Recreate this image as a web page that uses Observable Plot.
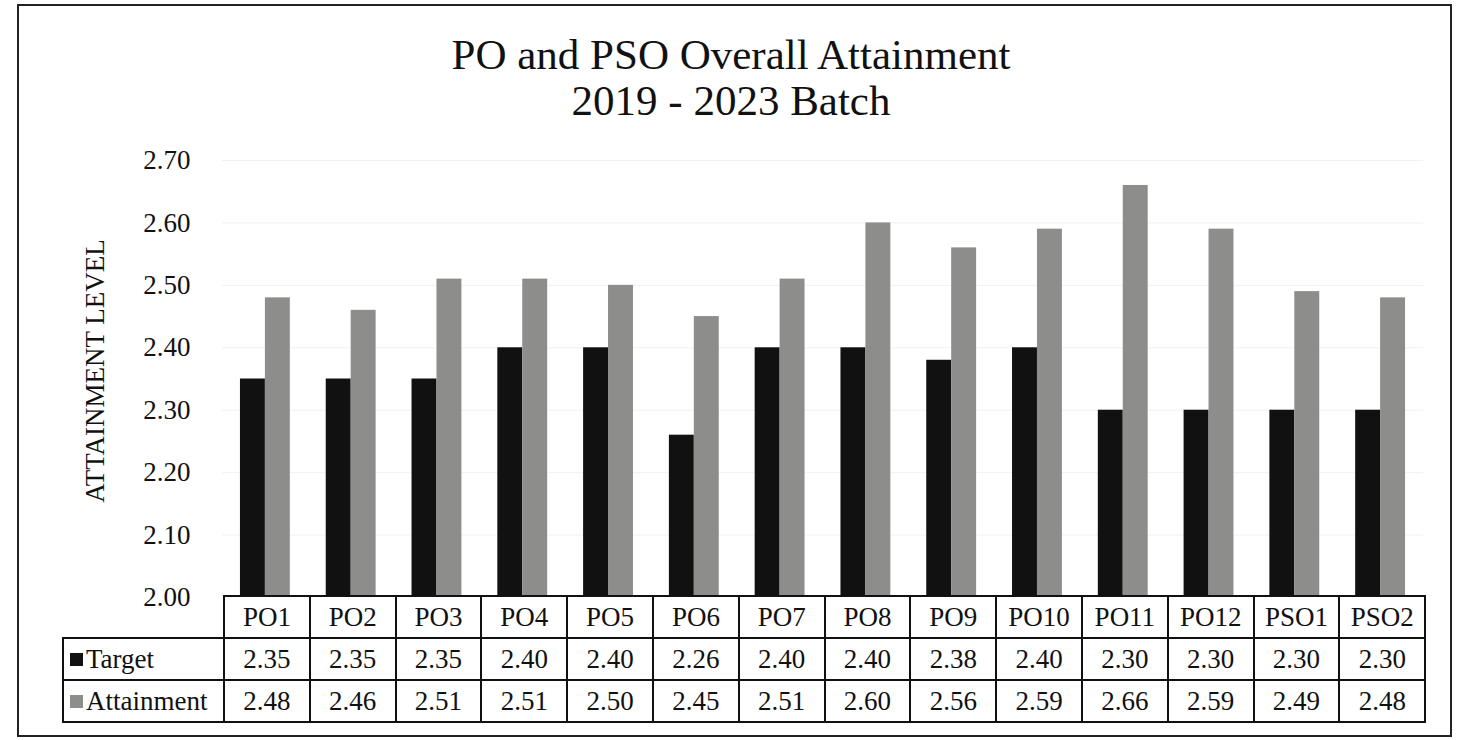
<!DOCTYPE html>
<html>
<head>
<meta charset="utf-8">
<script src="https://cdn.jsdelivr.net/npm/d3@7"></script>
<script src="https://cdn.jsdelivr.net/npm/@observablehq/plot@0.6"></script>
<style>
  html, body { margin: 0; padding: 0; background: #fff; }
  #page { position: relative; width: 1464px; height: 740px; overflow: hidden; background: #fff;
          font-family: 'Liberation Serif', 'Times New Roman', serif; color: #111; }
  #frame { position: absolute; left: 17px; top: 4px; width: 1431px; height: 729px; border: 2px solid #222; }
  #title { position: absolute; left: 0; top: 32px; width: 1462px; text-align: center;
           font-size: 43px; line-height: 46px; }
  #chart { position: absolute; left: 0; top: 140px; }
  #ylab { position: absolute; left: 95px; top: 371px; width: 0; height: 0; }
  #ylab span { position: absolute; left: 0; top: 0; transform: translate(-50%, -50%) rotate(-90deg);
               white-space: nowrap; font-size: 27px; line-height: 30px; }
  #tbl { position: absolute; left: 62px; top: 595px; border-collapse: collapse; table-layout: fixed;
         font-size: 27px; }
  #tbl td { border: 2px solid #111; height: 40px; padding: 0; text-align: center; background: #fff; }
  #tbl td.blank { border: none; background: transparent; }
  #tbl td.lab { text-align: left; padding-left: 6px; white-space: nowrap; }
  .key { display: inline-block; width: 13px; height: 13px; margin-right: 3px; vertical-align: 2px; }
</style>
</head>
<body>
<div id="page">
  <div id="frame"></div>
  <div id="title">PO and PSO Overall Attainment<br>2019 - 2023 Batch</div>
  <div id="chart"></div>
  <div id="ylab"><span></span></div>
  <table id="tbl"></table>
</div>
<script>
const categories = ["PO1","PO2","PO3","PO4","PO5","PO6","PO7","PO8","PO9","PO10","PO11","PO12","PSO1","PSO2"];
const seriesNames = ["Target", "Attainment"];
const target = [2.35, 2.35, 2.35, 2.40, 2.40, 2.26, 2.40, 2.40, 2.38, 2.40, 2.30, 2.30, 2.30, 2.30];
const attainment = [2.48, 2.46, 2.51, 2.51, 2.50, 2.45, 2.51, 2.60, 2.56, 2.59, 2.66, 2.59, 2.49, 2.48];
const yTicks = [2.00, 2.10, 2.20, 2.30, 2.40, 2.50, 2.60, 2.70];
const seriesColors = ["#111111", "#8d8d8b"];
const yLabel = "ATTAINMENT LEVEL";

const values = {Target: target, Attainment: attainment};
const data = categories.flatMap((c, i) => seriesNames.map(s => ({cat: c, series: s, value: values[s][i]})));
const baseline = yTicks[0];

const chart = Plot.plot({
  width: 1464,
  height: 477,
  marginTop: 20,
  marginBottom: 20,
  marginLeft: 222,
  marginRight: 41,
  style: {fontFamily: "'Liberation Serif', 'Times New Roman', serif", fontSize: "27px", color: "#111", background: "transparent", overflow: "visible"},
  fx: {domain: categories, padding: 0, round: false, axis: null},
  x: {domain: seriesNames, paddingInner: 0, paddingOuter: 0.72, round: false, axis: null},
  y: {domain: [yTicks[0], yTicks[yTicks.length - 1]], ticks: yTicks, tickFormat: d3.format(".2f"), tickSize: 0, tickPadding: 32, label: null},
  color: {domain: seriesNames, range: seriesColors},
  marks: [
    Plot.gridY(yTicks.slice(1), {stroke: "#f1f1f1", strokeOpacity: 1}),
    Plot.barY(data, {fx: "cat", x: "series", y1: baseline, y2: "value", fill: "series"})
  ]
});
document.getElementById("chart").appendChild(chart);
document.querySelector("#ylab span").textContent = yLabel;

// data table under the chart
const tbl = document.getElementById("tbl");
const colg = document.createElement("colgroup");
const c0 = document.createElement("col"); c0.style.width = "161px"; colg.appendChild(c0);
categories.forEach(() => { const c = document.createElement("col"); c.style.width = "85.8px"; colg.appendChild(c); });
tbl.appendChild(colg);
const head = document.createElement("tr");
const blank = document.createElement("td"); blank.className = "blank"; head.appendChild(blank);
categories.forEach(c => { const td = document.createElement("td"); td.textContent = c; head.appendChild(td); });
tbl.appendChild(head);
seriesNames.forEach((s, k) => {
  const tr = document.createElement("tr");
  const lab = document.createElement("td"); lab.className = "lab";
  const key = document.createElement("span"); key.className = "key"; key.style.background = seriesColors[k];
  lab.appendChild(key); lab.appendChild(document.createTextNode(s));
  tr.appendChild(lab);
  values[s].forEach(v => { const td = document.createElement("td"); td.textContent = d3.format(".2f")(v); tr.appendChild(td); });
  tbl.appendChild(tr);
});
</script>
</body>
</html>
